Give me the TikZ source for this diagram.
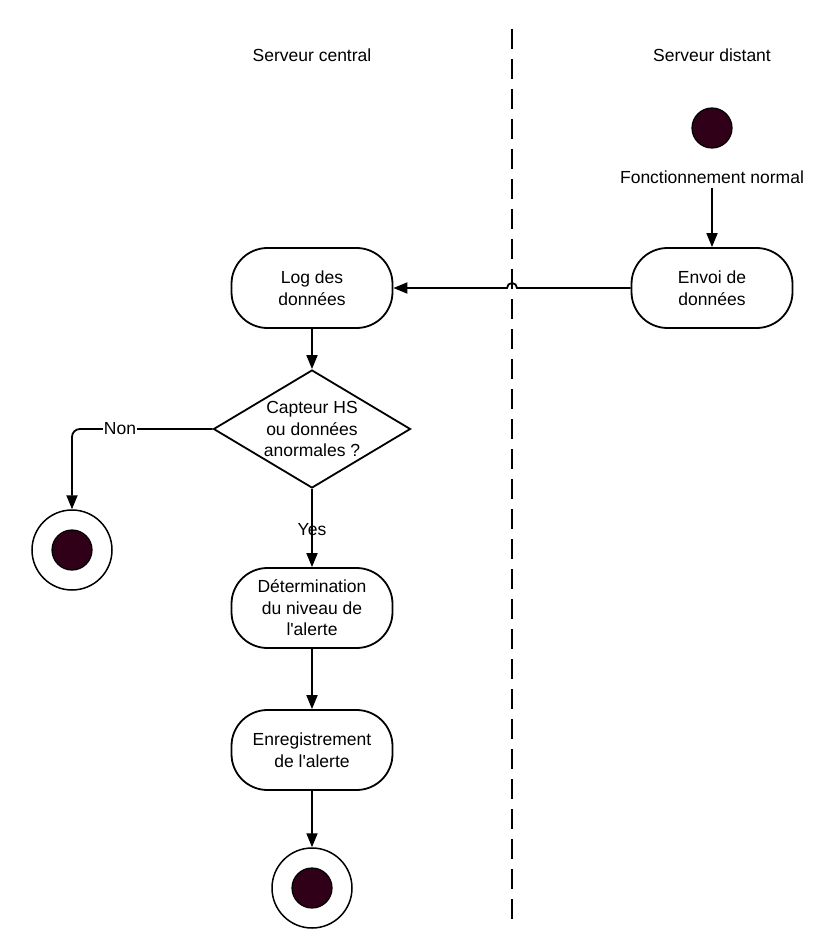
\documentclass[tikz,border=0pt]{standalone}
\usepackage{fontspec}
\setmainfont{Liberation Sans}
\usetikzlibrary{arrows.meta,shapes.geometric}
\definecolor{dotfill}{RGB}{48,0,24}
\begin{document}
\begin{tikzpicture}[x=1pt,y=-1pt,
  font=\fontsize{17.5}{21.5}\selectfont,
  line width=1.8pt,
  flow/.style={-{Triangle[length=14pt,width=11pt]}},
  activity/.style={draw,rounded corners=36pt,minimum width=161pt,minimum height=80pt,align=center,inner sep=0pt},
  decision/.style={draw,diamond,minimum width=197pt,minimum height=118pt,aspect=1.67,align=center,inner sep=0pt},
  startdot/.style={circle,draw,line width=1.2pt,fill=dotfill,minimum size=40pt,inner sep=0pt},
  endring/.style={circle,draw,line width=1.5pt,fill=white,minimum size=80pt,inner sep=0pt},
  enddot/.style={circle,draw,line width=1.2pt,fill=dotfill,minimum size=40pt,inner sep=0pt},
  lane/.style={line width=2pt,dash pattern=on 20pt off 10pt}]
\useasboundingbox (0,0) rectangle (837,949);

% swimlane separator and titles
\coordinate (laneTop) at (512,29);
\coordinate (laneBot) at (512,919);
\draw[lane] (laneTop) -- (laneBot);
\node (titleL) at (312,55) {Serveur central};
\node (titleR) at (712,55) {Serveur distant};

% remote server
\node[startdot] (start) at (712,128) {};
\node (normal) at (712,177) {Fonctionnement normal};
\node[activity] (envoi) at (712,288) {Envoi de\\données};

% central server
\node[activity] (log) at (312,288) {Log des\\données};
\node[decision] (test) at (312,429) {Capteur HS\\ou données\\anormales ?};
\node[activity] (niveau) at (312,608) {Détermination\\du niveau de\\l\textquotesingle alerte};
\node[activity] (enreg) at (312,750) {Enregistrement\\de l\textquotesingle alerte};

\node[endring] (endA) at (72,550) {};
\node[enddot] at (endA.center) {};
\node[endring] (endB) at (312,888) {};
\node[enddot] at (endB.center) {};

% connectors
\draw[flow] (normal.south) -- (envoi.north);
\draw[flow] (envoi.west) -- (517,288) arc[start angle=0,end angle=180,radius=5pt] -- (log.east);
\draw[flow] (log.south) -- (test.north);
\draw[flow,rounded corners=8pt] (test.west) -- (72,429) -- (endA.north);
\node[fill=white,inner sep=1pt] (non) at (120,429) {Non};
\draw[flow] (test.south) -- (niveau.north);
\node (yes) at (312,530) {Yes};
\draw[flow] (niveau.south) -- (enreg.north);
\draw[flow] (enreg.south) -- (endB.north);
\end{tikzpicture}
\end{document}
